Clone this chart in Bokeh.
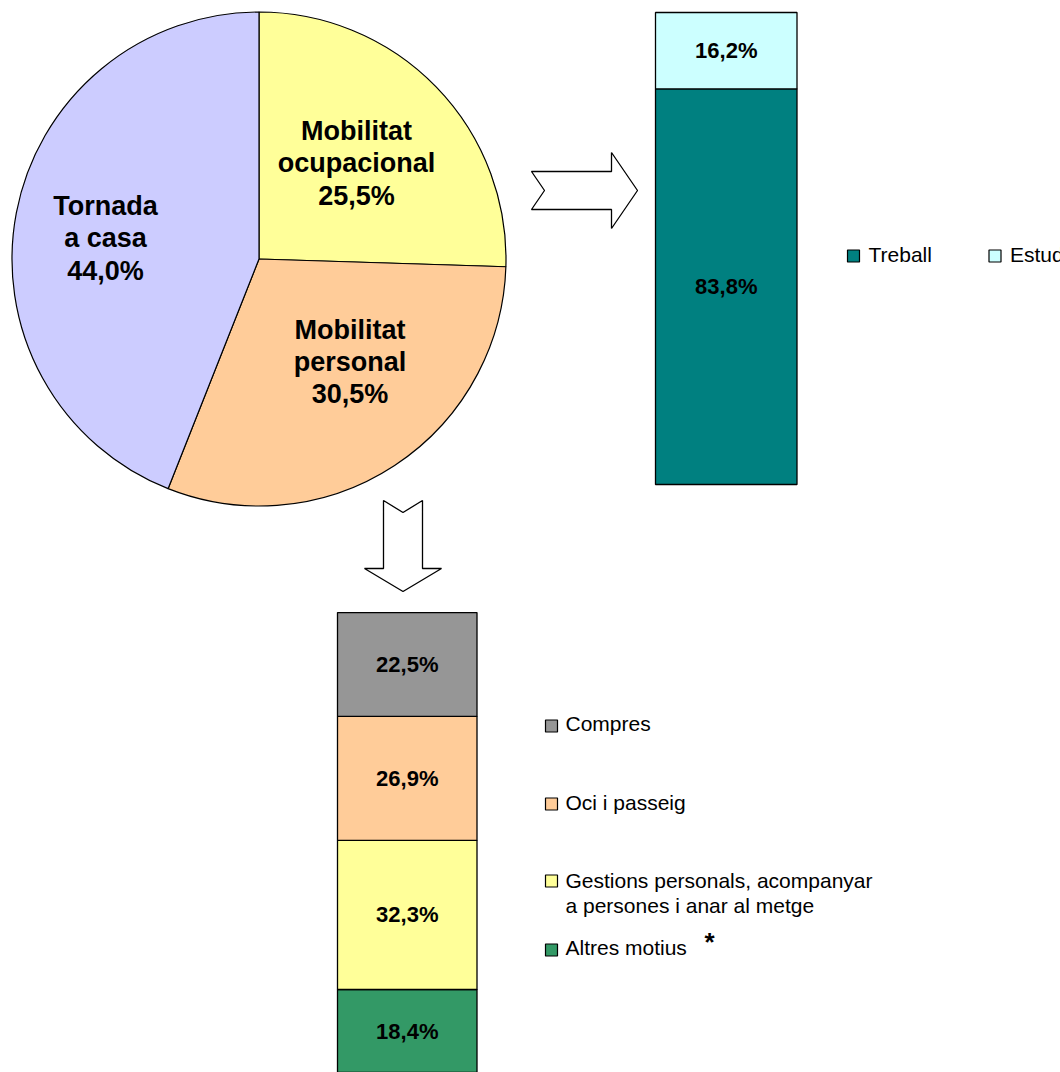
import numpy as np
from bokeh.plotting import figure
from bokeh.models import Range1d, ColumnDataSource
from bokeh.embed import file_html
from bokeh.resources import INLINE
from bokeh.core.properties import value

# ---------------- data ----------------
pie_labels = ["Mobilitat\nocupacional", "Mobilitat\npersonal", "Tornada\na casa"]
pie_values = [25.5, 30.5, 44.0]
pie_colors = ["#FFFF99", "#FFCC99", "#CCCCFF"]

occ_labels = ["Treball", "Estudis"]
occ_values = [83.8, 16.2]
occ_colors = ["#008080", "#CCFFFF"]

pers_labels = ["Altres motius",
               "Gestions personals, acompanyar\na persones i anar al metge",
               "Oci i passeig",
               "Compres"]
pers_values = [18.4, 32.3, 26.9, 22.5]
pers_colors = ["#339966", "#FFFF99", "#FFCC99", "#969696"]

footnote_mark = "*"

# ---------------- layout helpers ----------------
W, H, OFF = 1060, 1072, 0
FONT = value("Liberation Sans")


def Y(py):
    """page pixel row -> data y"""
    return OFF + H - py


def fmt(v):
    return f"{v:.1f}".replace(".", ",") + "%"


def extra_range(base_py, ppu):
    b = Y(base_py)
    return Range1d(start=(0 - b) / ppu, end=(H - b) / ppu)


p = figure(width=W, height=H, x_range=Range1d(OFF, OFF + W), y_range=Range1d(0, H),
           output_backend="svg", toolbar_location=None, tools="",
           x_axis_type=None, y_axis_type=None, min_border=0,
           outline_line_color=None, background_fill_color="white")

# ---------------- pie ----------------
cx, cy, R = 258.5, 258.5, 247
frac = np.array(pie_values) / np.sum(pie_values)
ends = np.cumsum(frac)
starts = ends - frac
pie_src = ColumnDataSource(dict(
    start=np.pi / 2 - starts * 2 * np.pi,
    end=np.pi / 2 - ends * 2 * np.pi,
    color=pie_colors,
))
p.wedge(x=cx, y=Y(cy), radius=R, start_angle="start", end_angle="end",
        direction="clock", fill_color="color", line_color="black",
        line_width=1.2, source=pie_src)

pie_label_pos = [(356, 163), (349.5, 361.5), (105, 238)]
p.text(x=[q[0] for q in pie_label_pos], y=[Y(q[1]) for q in pie_label_pos],
       text=[f"{l}\n{fmt(v)}" for l, v in zip(pie_labels, pie_values)],
       text_font=FONT, text_font_style="bold", text_font_size="27px",
       text_align="center", text_baseline="middle", text_line_height=1.08,
       text_color="black")

# ---------------- arrows ----------------
right_arrow = [(531, 171), (611, 171), (611, 152), (637, 190), (611, 228),
               (611, 209), (531, 209), (544, 190)]
down_arrow = [(383, 500), (402.5, 512), (422, 500), (422, 568), (441, 568),
              (402.5, 591), (364, 568), (383, 568)]
for arr in (right_arrow, down_arrow):
    p.patch([a[0] for a in arr], [Y(a[1]) for a in arr], fill_color="white",
            line_color="black", line_width=1.3)

# ---------------- bar 1 (mobilitat ocupacional) ----------------
p.extra_y_ranges["occ"] = extra_range(484, 4.72)
oc_top = np.cumsum(occ_values)
oc_bot = oc_top - np.array(occ_values)
occ_src = ColumnDataSource(dict(bottom=oc_bot, top=oc_top, color=occ_colors,
                                mid=(oc_bot + oc_top) / 2,
                                lab=[fmt(v) for v in occ_values]))
p.vbar(x=725.75, width=141.5, bottom="bottom", top="top", fill_color="color",
       line_color="black", line_width=1.3, y_range_name="occ", source=occ_src)
p.text(x=725.75, y="mid", text="lab", y_range_name="occ", source=occ_src,
       text_font=FONT, text_font_style="bold", text_font_size="22px",
       text_align="center", text_baseline="middle", text_color="black")

# legend 1 (horizontal)
leg1_x = [853 + 141.5 * i for i in range(len(occ_labels))]
p.scatter(x=leg1_x, y=[Y(255.5)] * len(leg1_x), marker="square", size=12,
          fill_color=occ_colors, line_color="black", line_width=1.2)
p.text(x=[x + 15 for x in leg1_x], y=[Y(254)] * len(leg1_x), text=occ_labels,
       text_font=FONT, text_font_size="21px", text_align="left",
       text_baseline="middle", text_color="black")

# ---------------- bar 2 (mobilitat personal) ----------------
p.extra_y_ranges["pers"] = extra_range(1073.9, 4.614)
pe_top = np.cumsum(pers_values)
pe_bot = pe_top - np.array(pers_values)
pers_src = ColumnDataSource(dict(bottom=pe_bot, top=pe_top, color=pers_colors,
                                 mid=(pe_bot + pe_top) / 2,
                                 lab=[fmt(v) for v in pers_values]))
p.vbar(x=406.75, width=139.5, bottom="bottom", top="top", fill_color="color",
       line_color="black", line_width=1.3, y_range_name="pers", source=pers_src)
p.text(x=406.75, y="mid", text="lab", y_range_name="pers", source=pers_src,
       text_font=FONT, text_font_style="bold", text_font_size="22px",
       text_align="center", text_baseline="middle", text_color="black")

# legend 2 (vertical, top-down order)
leg2_sq_y = [949.5, 880.5, 803.5, 725.5]
leg2_tx_y = [947, 892.5, 801.5, 723]
p.scatter(x=[551] * 4, y=[Y(v) for v in leg2_sq_y], marker="square", size=12,
          fill_color=pers_colors, line_color="black", line_width=1.2)
p.text(x=[565] * 4, y=[Y(v) for v in leg2_tx_y], text=pers_labels,
       text_font=FONT, text_font_size="21px", text_align="left",
       text_baseline="middle", text_line_height=1.12, text_color="black")
p.text(x=[709], y=[Y(941)], text=[footnote_mark], text_font=FONT,
       text_font_style="bold", text_font_size="26px", text_align="center",
       text_baseline="middle", text_color="black")

open("out.html", "w").write(file_html(p, INLINE))
